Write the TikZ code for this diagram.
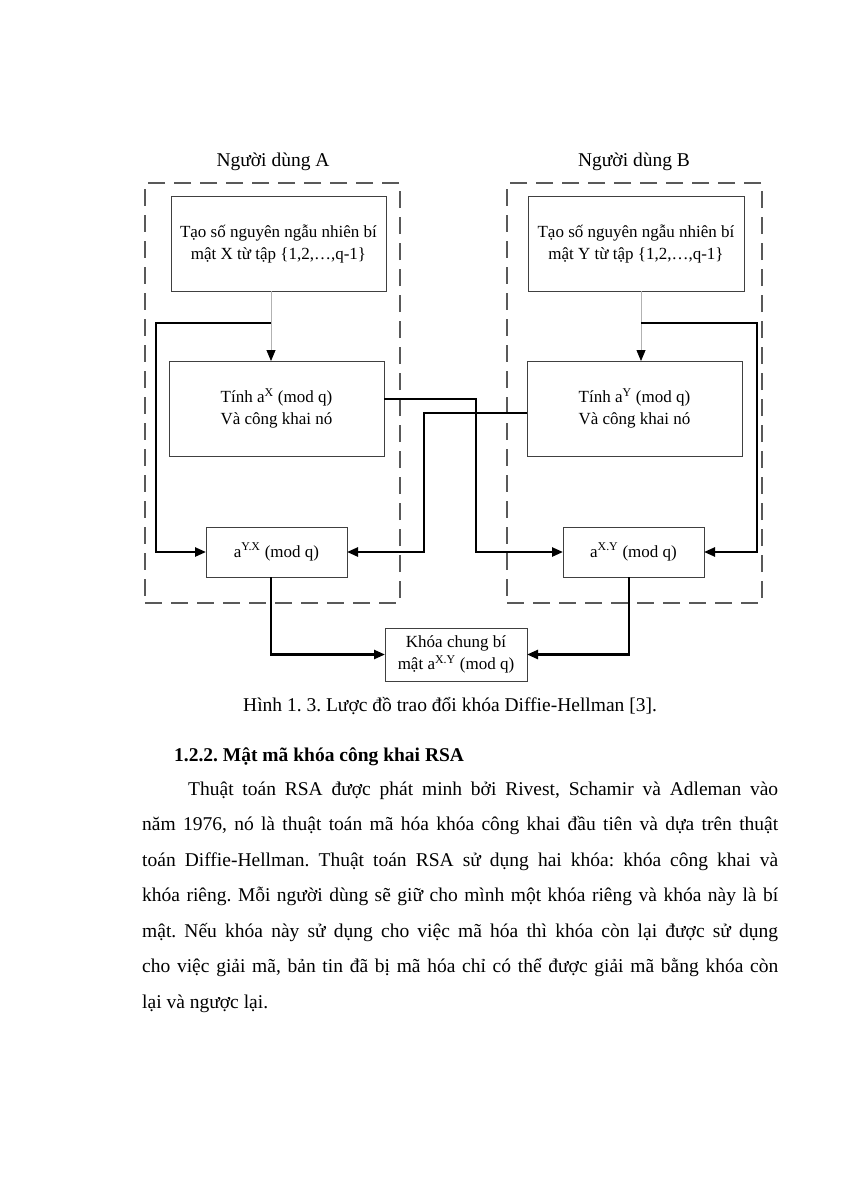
\documentclass[tikz,border=0pt]{standalone}
\usepackage{fontspec}
\setmainfont{Liberation Serif}
\usetikzlibrary{arrows.meta}
\frenchspacing
\begin{document}
\begin{tikzpicture}[x=1pt,y=-1pt,
  box/.style={draw=black!75, line width=0.9pt, inner sep=0pt, outer sep=0pt, align=center, font=\fontsize{17}{22}\selectfont},
  grp/.style={draw=black!65, line width=1.3pt, dash pattern=on 17pt off 9pt, inner sep=0pt, outer sep=0pt},
  conn/.style={line width=2.4pt, -{Triangle[length=11pt,width=9pt]}},
  feed/.style={draw=black!30, line width=0.8pt, -{Triangle[length=11pt,width=9pt,color=black]}},
  lbl/.style={font=\fontsize{19.5}{22}\selectfont, inner sep=0pt, anchor=base},
  body/.style={font=\fontsize{19.5}{22}\selectfont, inner sep=0pt, anchor=base west}
]
\useasboundingbox[fill=white] (0,0) rectangle (849,1200);

% group frames
\node[grp, minimum width=255pt, minimum height=420pt] (gA) at (272.5,393) {};
\node[grp, minimum width=255pt, minimum height=420pt] (gB) at (634.5,393) {};
\node[lbl] (tA) at (273,166) {Người dùng A};
\node[lbl] (tB) at (634,166) {Người dùng B};

% boxes
\node[box, minimum width=215pt, minimum height=95pt] (A1) at (278.5,243.5) {Tạo số nguyên ngẫu nhiên bí\\mật X từ tập \{1,2,…,q-1\}};
\node[box, minimum width=216pt, minimum height=95pt] (B1) at (636,243.5) {Tạo số nguyên ngẫu nhiên bí\\mật Y từ tập \{1,2,…,q-1\}};
\node[box, minimum width=215pt, minimum height=95pt] (TA) at (276.5,408.5) {Tính a\textsuperscript{X} (mod q)\\Và công khai nó};
\node[box, minimum width=215pt, minimum height=95pt] (TB) at (634.5,408.5) {Tính a\textsuperscript{Y} (mod q)\\Và công khai nó};
\node[box, minimum width=141pt, minimum height=50pt] (YX) at (276.5,552) {a\textsuperscript{Y.X} (mod q)};
\node[box, minimum width=141pt, minimum height=50pt] (XY) at (633.5,552) {a\textsuperscript{X.Y} (mod q)};
\node[box, minimum width=142pt, minimum height=53pt] (K) at (456,654.5) {Khóa chung bí\\mật a\textsuperscript{X.Y} (mod q)};

% helper coordinates
\coordinate (xA) at (271,0);
\coordinate (xB) at (641,0);
\coordinate (jA) at (271,323);
\coordinate (lA) at (156,323);
\coordinate (jB) at (641,323);
\coordinate (rB) at (757,323);
\coordinate (oA) at (384,399);
\coordinate (mA) at (476,399);
\coordinate (oB) at (527,413);
\coordinate (mB) at (424,413);
\coordinate (dA) at (271,577);
\coordinate (dB) at (629,577);

% feeds
\draw[feed] (A1.south -| xA) -- (TA.north -| xA);
\draw[feed] (B1.south -| xB) -- (TB.north -| xB);

% thick connectors
\draw[conn] (jA) -- (lA) |- (YX.west);
\draw[conn] (jB) -- (rB) |- (XY.east);
\draw[conn] (oA) -- (mA) |- (XY.west);
\draw[conn] (oB) -- (mB) |- (YX.east);
\draw[conn] (dA) |- (K.west);
\draw[conn] (dB) |- (K.east);

% caption and text
\node[body] (cap) at (243,711) {Hình 1. 3. Lược đồ trao đổi khóa Diffie-Hellman [3].};
\node[body, font=\fontsize{19.5}{22}\selectfont\bfseries] (h) at (174,761) {1.2.2. Mật mã khóa công khai RSA};
\node[body] (p1) at (188,795) {\makebox[590pt][s]{Thuật toán RSA được phát minh bởi Rivest, Schamir và Adleman vào}};
\node[body] (p2) at (142,830.5) {\makebox[636pt][s]{năm 1976, nó là thuật toán mã hóa khóa công khai đầu tiên và dựa trên thuật}};
\node[body] (p3) at (142,866) {\makebox[636pt][s]{toán Diffie-Hellman. Thuật toán RSA sử dụng hai khóa: khóa công khai và}};
\node[body] (p4) at (142,901.5) {\makebox[636pt][s]{khóa riêng. Mỗi người dùng sẽ giữ cho mình một khóa riêng và khóa này là bí}};
\node[body] (p5) at (142,937) {\makebox[636pt][s]{mật. Nếu khóa này sử dụng cho việc mã hóa thì khóa còn lại được sử dụng}};
\node[body] (p6) at (142,972.5) {\makebox[636pt][s]{cho việc giải mã, bản tin đã bị mã hóa chỉ có thể được giải mã bằng khóa còn}};
\node[body] (p7) at (142,1008) {lại và ngược lại.};
\end{tikzpicture}
\end{document}
